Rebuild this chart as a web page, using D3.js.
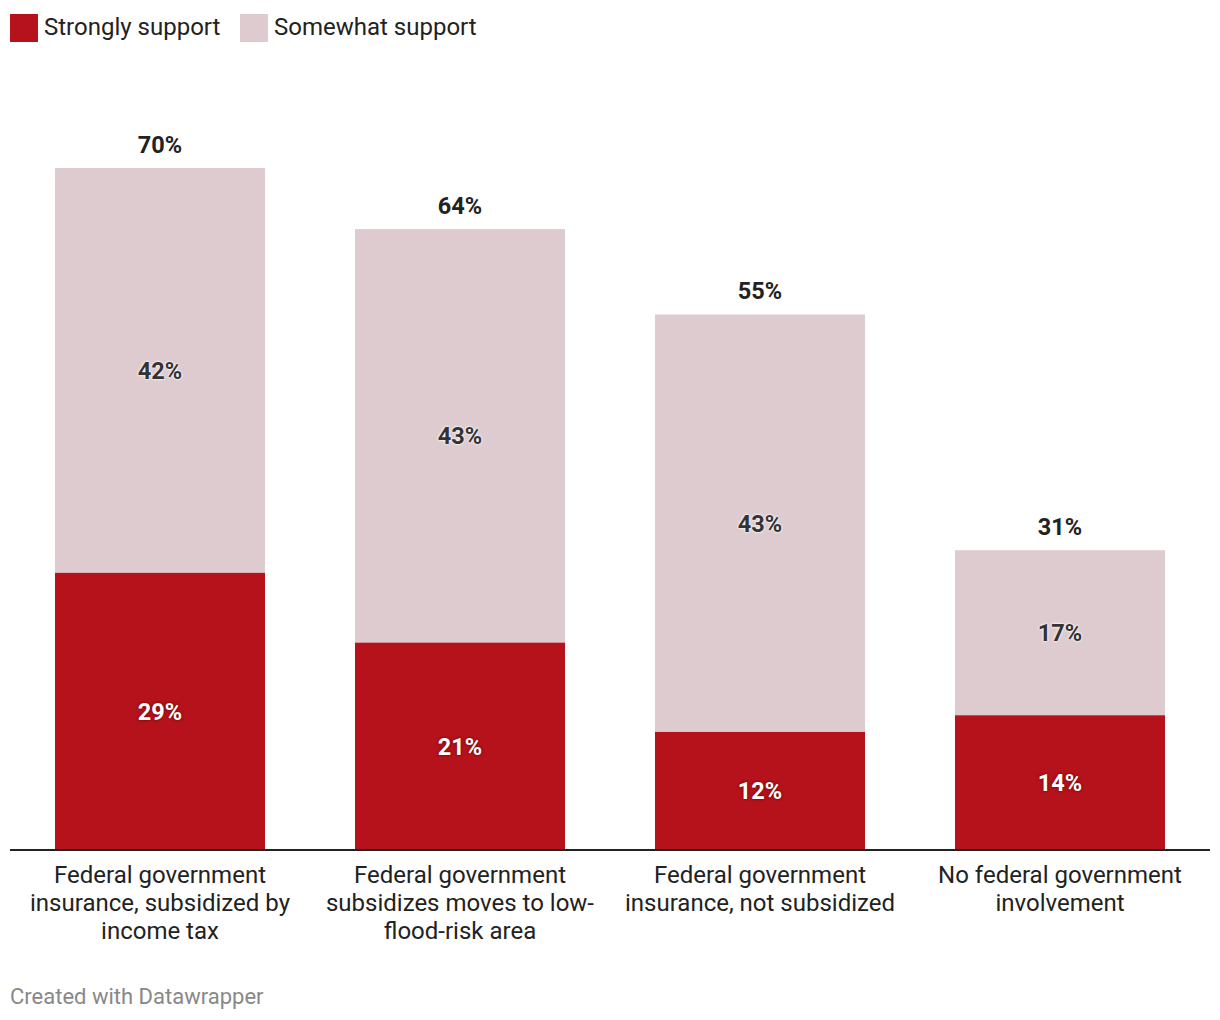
<!DOCTYPE html>
<html><head><meta charset="utf-8">
<script src="https://cdn.jsdelivr.net/npm/d3@7"></script>
<style>
body{margin:0;background:#fff;font-family:Roboto,"Noto Sans",sans-serif;}
svg text{font-family:Roboto,"Noto Sans",sans-serif;}
</style></head><body>
<svg id="c" width="1220" height="1020"></svg>
<script>
const categories = [
  ["Federal government","insurance, subsidized by","income tax"],
  ["Federal government","subsidizes moves to low-","flood-risk area"],
  ["Federal government","insurance, not subsidized"],
  ["No federal government","involvement"]
];
const strongly = [28.6, 21.4, 12.2, 13.9];
const somewhat = [41.7, 42.6, 43.0, 17.0];
const strongLabels = ["29%","21%","12%","14%"];
const somewhatLabels = ["42%","43%","43%","17%"];
const totalLabels = ["70%","64%","55%","31%"];
const seriesNames = ["Strongly support","Somewhat support"];
const colors = ["#b5121b","#ddcbcf"];

const svg = d3.select("#c");
const x = d3.scaleBand().domain(d3.range(categories.length)).range([10,1210]).paddingInner(0.3).paddingOuter(0.15);
const totals = strongly.map((s,i)=>s+somewhat[i]);
const y = d3.scaleLinear().domain([0, d3.max(totals)]).range([850,168]);

// legend
const lg = svg.append("g");
const legX = [10, 240];
seriesNames.forEach((n,i)=>{
  lg.append("rect").attr("x",legX[i]).attr("y",14).attr("width",28).attr("height",28).attr("fill",colors[i]);
  lg.append("text").attr("x",legX[i]+34).attr("y",34.5).attr("font-size",24).attr("fill","#222").text(n);
});

const g = svg.append("g");
categories.forEach((c,i)=>{
  const bx = x(i), bw = x.bandwidth();
  g.append("rect").attr("x",bx).attr("width",bw).attr("y",y(strongly[i])).attr("height",y(0)-y(strongly[i])).attr("fill",colors[0]);
  g.append("rect").attr("x",bx).attr("width",bw).attr("y",y(totals[i])).attr("height",y(strongly[i])-y(totals[i])).attr("fill",colors[1]);
  const cx = bx+bw/2;
  g.append("text").attr("x",cx).attr("y",(y(0)+y(strongly[i]))/2+8.5).attr("text-anchor","middle")
    .attr("font-size",23.5).attr("font-weight",700).attr("fill","#fff")
    .style("text-shadow","0 0 2px #7a0a10, 0 0 3px #7a0a10").text(strongLabels[i]);
  g.append("text").attr("x",cx).attr("y",(y(strongly[i])+y(totals[i]))/2+8.5).attr("text-anchor","middle")
    .attr("font-size",23.5).attr("font-weight",700).attr("fill","#333")
    .style("text-shadow","0 0 2px #fff, 0 0 3px #fff").text(somewhatLabels[i]);
  g.append("text").attr("x",cx).attr("y",y(totals[i])-15.5).attr("text-anchor","middle")
    .attr("font-size",23.5).attr("font-weight",700).attr("fill","#222").text(totalLabels[i]);
  const t = g.append("text").attr("text-anchor","middle").attr("font-size",24).attr("fill","#222");
  c.forEach((line,j)=>{
    t.append("tspan").attr("x",cx).attr("y",883+j*28).text(line);
  });
});

svg.append("line").attr("x1",10).attr("x2",1210).attr("y1",850).attr("y2",850).attr("stroke","#222").attr("stroke-width",2);

svg.append("text").attr("x",10).attr("y",1004).attr("font-size",22).attr("fill","#888").text("Created with Datawrapper");
</script>
</body></html>
